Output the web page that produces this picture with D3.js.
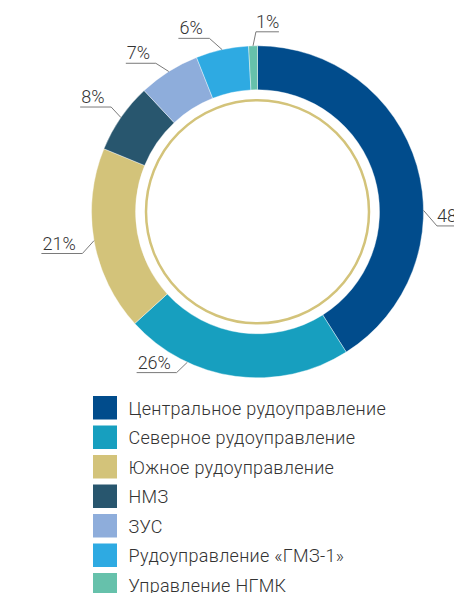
<!DOCTYPE html>
<html>
<head>
<meta charset="utf-8">
<script src="https://cdn.jsdelivr.net/npm/d3@7"></script>
<style>
	html, body { margin: 0; padding: 0; background: #fff; }
	svg { display: block; font-family: Roboto, "Noto Sans", sans-serif; }
</style>
</head>
<body>
<div id="chart"></div>
<script>
"use strict";
// data
let categories = ["Центральное рудоуправление", "Северное рудоуправление", "Южное рудоуправление", "НМЗ", "ЗУС", "Рудоуправление «ГМЗ-1»", "Управление НГМК"];
let values = [48, 26, 21, 8, 7, 6, 1];
let valueLabels = ["48%", "26%", "21%", "8%", "7%", "6%", "1%"];
let colors = ["#014c8c", "#179fbf", "#d3c37a", "#28566e", "#8eaddb", "#2eaae2", "#66c1ab"];

// label leader layout: anchor angle on ring, elbow angle, horizontal length (deg / px)
let labelAnchor = [89.5, 205, null, null, null, null, null];
let labelElbow = [94.5, 206.7, 256.6, 305.6, 325.6, 344.5, 359.5];
let labelLen = [40, 40, 41, 31, 30, 31, 23];

let width = 454, height = 593;
let cx = 257.5, cy = 211.8;
let outerR = 166, innerR = 122, ringR = 111.5;

let svg = d3.select("#chart")
	.append("svg")
	.attr("width", width)
	.attr("height", height);

let g = svg.append("g").attr("transform", "translate(" + cx + "," + cy + ")");

let pie = d3.pie().sort(null).value(function(d) { return d; });
let arcs = pie(values);
let arc = d3.arc().innerRadius(innerR).outerRadius(outerR);

g.selectAll(".slice")
	.data(arcs)
	.enter().append("path")
	.attr("class", "slice")
	.attr("d", arc)
	.attr("fill", function(d, i) { return colors[i]; })
	.attr("stroke", "#fff")
	.attr("stroke-width", 0.4);

// thin inner ring
g.append("circle")
	.attr("r", ringR)
	.attr("fill", "none")
	.attr("stroke", "#d3c37a")
	.attr("stroke-width", 2.5);

function polar(deg, r)
{
	let a = deg * Math.PI / 180;
	return [Math.sin(a) * r, -Math.cos(a) * r];
}

let toDeg = 180 / Math.PI;

arcs.forEach(function(d, i)
{
	let anchorDeg = labelAnchor[i] !== null ? labelAnchor[i] : (d.startAngle + d.endAngle) / 2 * toDeg;
	let p0 = polar(anchorDeg, outerR);
	let p1 = polar(labelElbow[i], 180);
	let right = labelElbow[i] < 180 || labelElbow[i] > 355;
	let x2 = right ? p1[0] + labelLen[i] : p1[0] - labelLen[i];

	g.append("polyline")
		.attr("points", [p0, p1, [x2, p1[1]]].map(function(p) { return p.join(","); }).join(" "))
		.attr("fill", "none")
		.attr("stroke", "#7a7a7a")
		.attr("stroke-width", 1);

	g.append("text")
		.attr("x", right ? p1[0] : x2 + 1)
		.attr("y", p1[1] - 4)
		.attr("font-size", 18)
		.attr("font-weight", 300)
		.attr("fill", "#333")
		.text(valueLabels[i]);
});

// legend
let legend = svg.append("g").attr("transform", "translate(93,396)");
let rowH = 29.5;

let rows = legend.selectAll(".row")
	.data(categories)
	.enter().append("g")
	.attr("class", "row")
	.attr("transform", function(d, i) { return "translate(0," + i * rowH + ")"; });

rows.append("rect")
	.attr("width", 24)
	.attr("height", 23.5)
	.attr("fill", function(d, i) { return colors[i]; });

rows.append("text")
	.attr("x", 35.5)
	.attr("y", 18.5)
	.attr("font-size", 18)
	.attr("font-weight", 300)
	.attr("letter-spacing", 0.3)
	.attr("fill", "#333")
	.text(function(d) { return d; });
</script>
</body>
</html>
